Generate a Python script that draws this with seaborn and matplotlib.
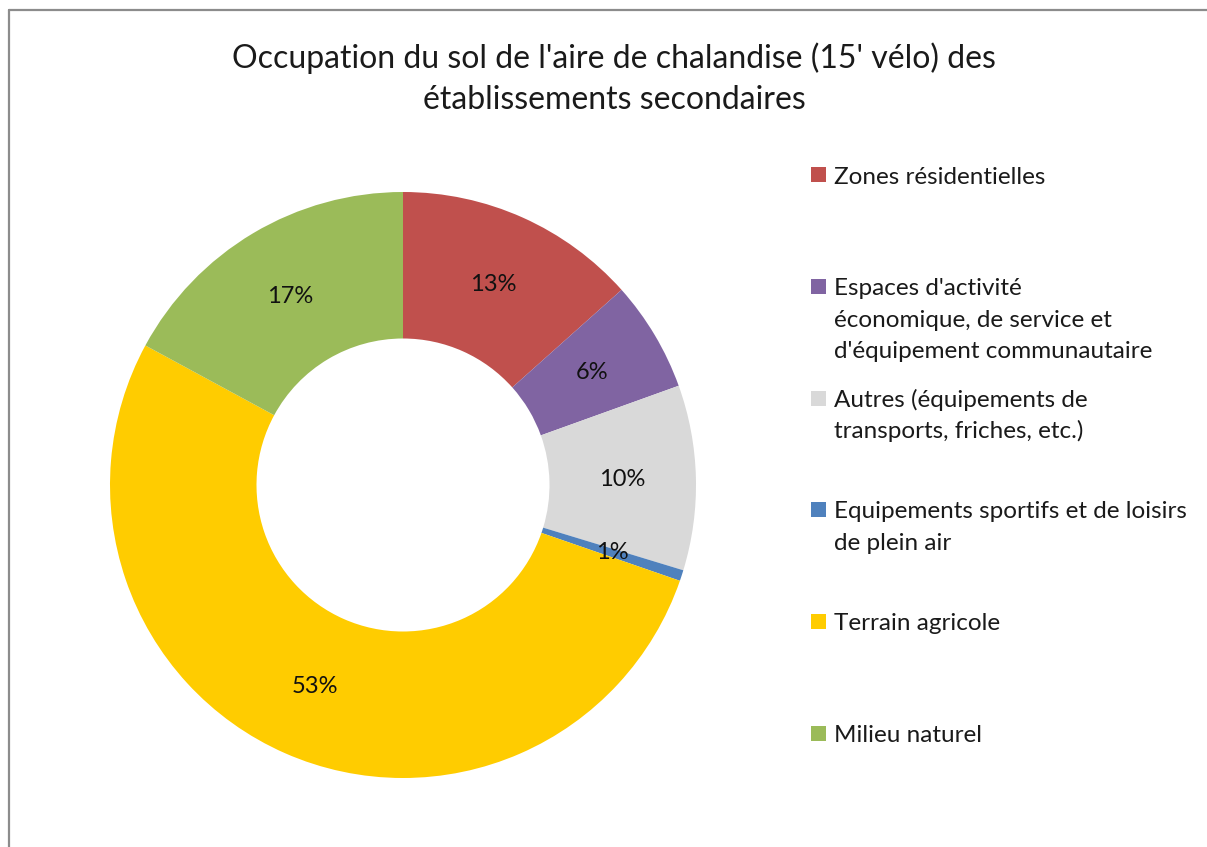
import matplotlib
matplotlib.use("Agg")
import matplotlib.pyplot as plt
from matplotlib.patches import Rectangle
from matplotlib.lines import Line2D
import seaborn as sns

# Land-use shares (%) within the 15-minute cycling catchment
categories = [
    "Zones résidentielles",
    "Espaces d'activité\néconomique, de service et\nd'équipement communautaire",
    "Autres (équipements de\ntransports, friches, etc.)",
    "Equipements sportifs et de loisirs\nde plein air",
    "Terrain agricole",
    "Milieu naturel",
]
shares = [13.4, 6.1, 10.2, 0.6, 52.6, 17.1]
colors = ["#C0504D", "#8064A2", "#D9D9D9", "#4F81BD", "#FFCC00", "#9BBB59"]
title_lines = ["Occupation du sol de l'aire de chalandise (15' vélo) des",
               "établissements secondaires"]

sns.set_theme(style="white")
plt.rcParams["font.family"] = ["Lato", "DejaVu Sans"]

W, H = 1207, 847
fig = plt.figure(figsize=(W / 100, H / 100), dpi=100)
fig.patch.set_facecolor("white")

def fx(px):
    return px / W

def fy(py):
    return 1 - py / H

# Chart-area frame (top and left edges visible)
frame_col = "#8c8c8c"
fig.add_artist(Line2D([fx(8.5), fx(W + 5)], [fy(10), fy(10)], color=frame_col, lw=1.6,
                      transform=fig.transFigure))
fig.add_artist(Line2D([fx(8.5), fx(8.5)], [fy(10), fy(H + 5)], color=frame_col, lw=1.6,
                      transform=fig.transFigure))

# Doughnut
cx, cy, r = 403, 485, 293
ax = fig.add_axes([fx(cx - r), fy(cy + r), 2 * r / W, 2 * r / H])
wedges, _, autotexts = ax.pie(
    shares,
    colors=colors,
    startangle=90,
    counterclock=False,
    radius=1.0,
    pctdistance=0.75,
    autopct=lambda p: f"{round(p)}%",
    wedgeprops=dict(width=0.5, linewidth=0),
    textprops=dict(fontsize=17, color="#111111"),
)
ax.set_xlim(-1, 1)
ax.set_ylim(-1, 1)
ax.set_axis_off()

# Title, one text per line
for k, line in enumerate(title_lines):
    fig.text(fx(614), fy(55 + 42 * k), line, ha="center", va="center_baseline",
             fontsize=23, color="#1a1a1a")

# Legend, evenly spaced rows
row0, step, lead = 175, 111.6, 31.5
for i, (lab, col) in enumerate(zip(categories, colors)):
    yc = row0 + i * step
    fig.add_artist(Rectangle((fx(811), fy(yc + 7.5)), 15 / W, 15 / H,
                             facecolor=col, edgecolor="none", transform=fig.transFigure))
    for k, line in enumerate(lab.split("\n")):
        fig.text(fx(834), fy(yc + 8.5 + lead * k), line, ha="left", va="baseline",
                 fontsize=17.5, color="#1a1a1a")

fig.savefig("out.png", dpi=100, facecolor="white")
